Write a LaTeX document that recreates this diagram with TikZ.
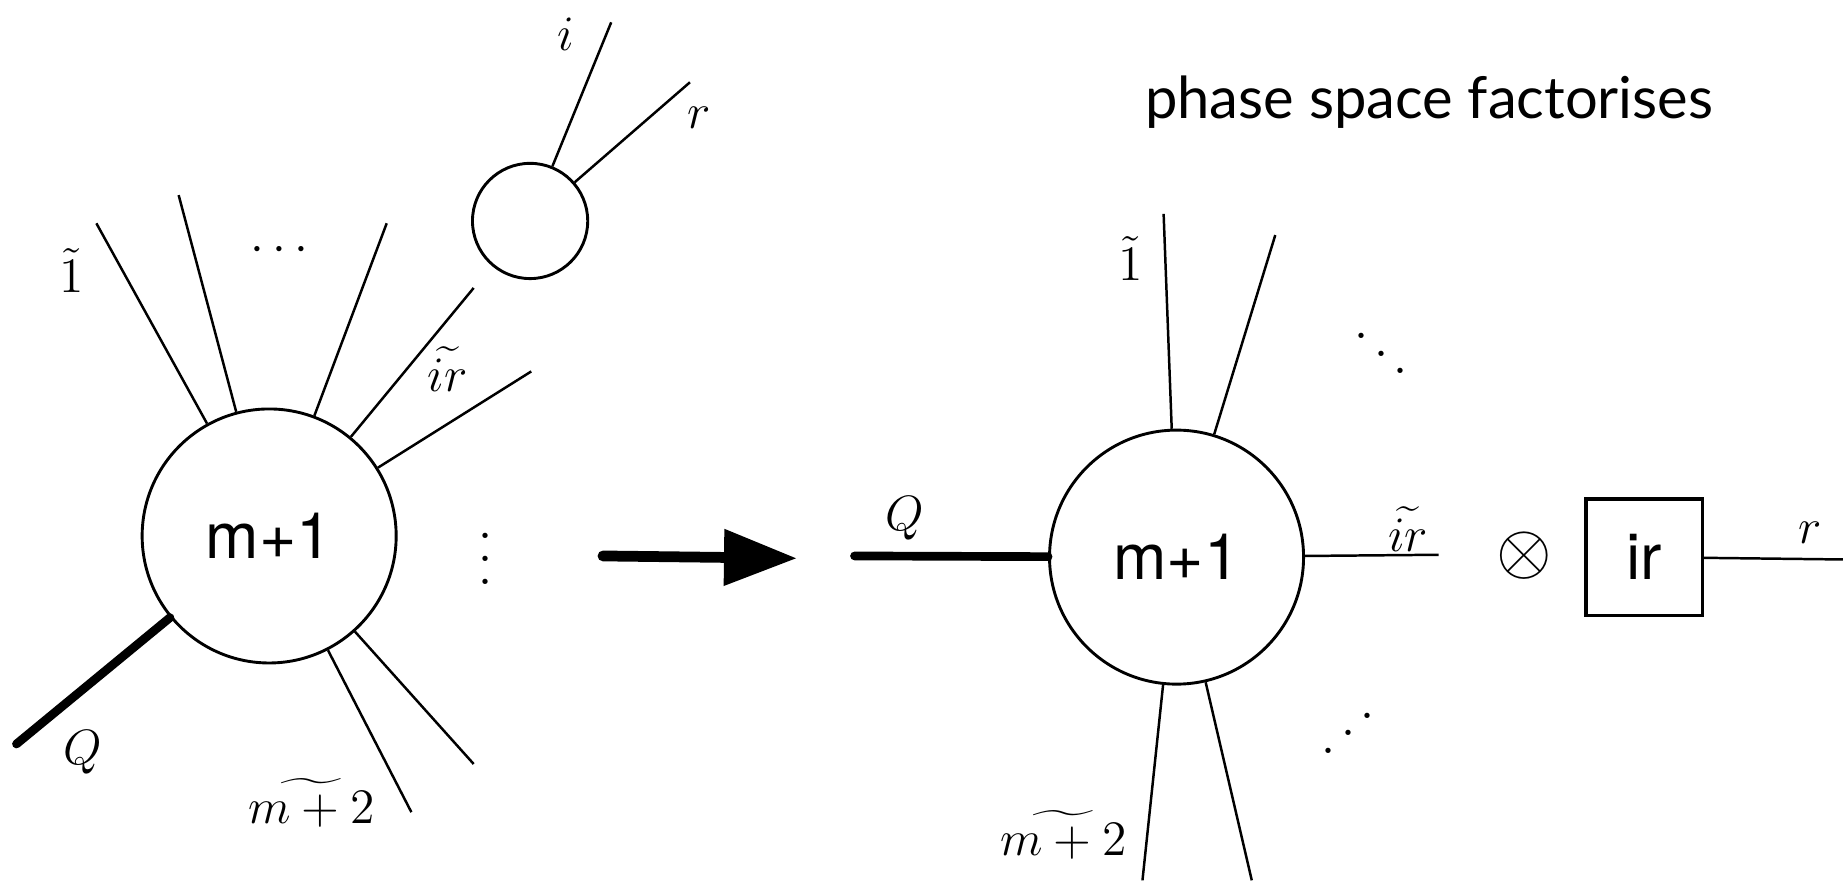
\documentclass[tikz,border=0pt]{standalone}
\usepackage{fontspec}
\newfontfamily\blobfont{TeX Gyre Heros}
\newfontfamily\headfont{Lato}
\usetikzlibrary{arrows.meta}
\tikzset{
  blob/.style    = {circle, draw, line width=0.7pt, inner sep=0pt, minimum size=2.16cm,
                    font=\blobfont\fontsize{15.5}{18}\selectfont},
  subblob/.style = {circle, draw, line width=0.7pt, inner sep=0pt, minimum size=0.98cm},
  irbox/.style   = {draw, line width=0.8pt, inner sep=0pt, minimum size=0.99cm,
                    font=\blobfont\fontsize{15.5}{18}\selectfont},
  leg/.style     = {line width=0.6pt},
  hard/.style    = {line width=2.1pt, line cap=round},
  lbl/.style     = {font=\fontsize{11.5}{14}\selectfont, inner sep=0pt},
  dotty/.style   = {font=\fontsize{8.2}{10}\selectfont, inner sep=0pt},
  maps/.style    = {line width=2.6pt, line cap=round, -{Triangle[length=0.62cm, width=0.46cm]}},
}
\newcommand{\bigdots}[1]{\scalebox{1.4}{$#1$}}

\begin{document}
\begin{tikzpicture}[x=0.01cm, y=-0.01cm]
\useasboundingbox (0,0) rectangle (1568,749);

% ------------------------------------------------------------------ before
\node[blob] (lhs) at (229,456) {m+1};
\node[subblob] (split) at (451,188) {};
\foreach \n/\x/\y in {l1/82/190, l2/152/166, l3/329/190, lir/403/245, l5/452/316, l6/403/650, lm/350/691}
  {\coordinate (\n) at (\x,\y); \draw[leg] (lhs) -- (\n);}
\coordinate (lq) at (14,633);
\draw[hard] (lhs) -- (lq);
\coordinate (si) at (520,19);
\coordinate (sr) at (587,70);
\foreach \n in {si,sr}{\draw[leg] (split) -- (\n);}

\node[lbl] (li) at (481,29) {$i$};
\node[lbl] (lr) at (595,100) {$r$};
\node[lbl] (lone) at (61,230) {$\tilde{1}$};
\node[lbl] (ldots) at (238,213) {$\cdots$};
\node[lbl] (lirt) at (381,314) {$\widetilde{ir}$};
\node[dotty] (lvdots) at (413,461) {\bigdots{\vdots}};
\node[lbl] (lmt) at (265,683) {$\widetilde{m+2}$};
\node[lbl] (lQ) at (70,640) {$Q$};

% ------------------------------------------------------------------ the map
\coordinate (from) at (513,473);
\coordinate (to) at (678,475);
\draw[maps] (from) -- (to);

% ------------------------------------------------------------------ after
\node[font=\headfont\fontsize{14}{16}\selectfont] (head) at (1216,87) {phase space factorises};
\node[blob] (rhs) at (1001,474) {m+1};
\foreach \n/\x/\y in {r1/990/182, r2/1085/200, rm/972/749, r4/1065/749, rir/1224/472}
  {\coordinate (\n) at (\x,\y); \draw[leg] (rhs) -- (\n);}
\coordinate (rq) at (727,473);
\draw[hard] (rhs) -- (rq);

\node[font=\fontsize{16}{18}\selectfont, inner sep=0pt] (times) at (1297,473) {$\otimes$};
\node[irbox] (irb) at (1399,474) {ir};
\coordinate (rr) at (1568,476);
\draw[leg] (irb) -- (rr);

\node[lbl] (rQ) at (770,441) {$Q$};
\node[lbl] (rone) at (962,220) {$\tilde{1}$};
\node[dotty] (rddots) at (1175,286) {\bigdots{\ddots}};
\node[lbl] (rirt) at (1198,450) {$\widetilde{ir}$};
\node[dotty] (ruddots) at (1147,609) {\reflectbox{\bigdots{\ddots}}};
\node[lbl] (rmt) at (905,710) {$\widetilde{m+2}$};
\node[lbl] (rrl) at (1540,453) {$r$};

\end{tikzpicture}
\end{document}
